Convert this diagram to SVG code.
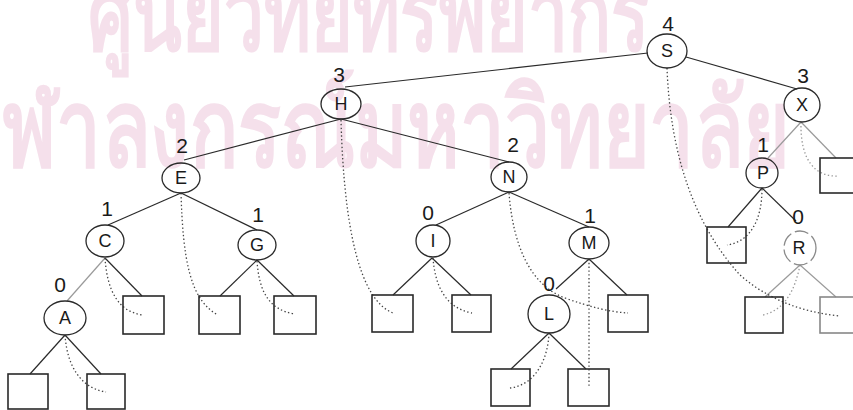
<svg xmlns="http://www.w3.org/2000/svg" width="853" height="410" viewBox="0 0 853 410">
<style>
.wm{font-family:"Noto Sans","DejaVu Sans",sans-serif;font-weight:bold;fill:#f5e0eb}
.n ellipse{fill:none;stroke:#2a2a2a;stroke-width:1.3}
.n text{font-family:"Liberation Sans",Arial,sans-serif;font-size:18px;fill:#1a1a1a;text-anchor:middle}
.n text.h{font-size:21px}
.b{fill:none;stroke:#2a2a2a;stroke-width:1.6}
.e line{stroke:#2a2a2a;stroke-width:1.2}
.e line.f{stroke:#9a9a9a}
.d{fill:none;stroke:#444;stroke-width:1.3;stroke-dasharray:1.4 2.4}
.d.f{stroke:#999}
</style>
<rect width="853" height="410" fill="#ffffff"/>
<g id="watermark">
<text class="wm" x="88" y="50" font-size="100" textLength="562" lengthAdjust="spacingAndGlyphs">ศูนย์วิทยทรัพยากร</text>
<text class="wm" x="-45" y="166" font-size="108" textLength="835" lengthAdjust="spacingAndGlyphs">จุฬาลงกรณ์มหาวิทยาลัย</text>
</g>
<g id="connectors">
<g class="e">
<line x1="648" y1="53" x2="345" y2="87"/>
<line x1="686" y1="57" x2="797" y2="89"/>
<line x1="341" y1="119" x2="184" y2="160"/>
<line x1="341" y1="119" x2="509" y2="162"/>
<line x1="181" y1="193" x2="108" y2="225"/>
<line x1="181" y1="193" x2="257" y2="230"/>
<line class="f" x1="105" y1="258" x2="67" y2="301"/>
<line x1="105" y1="258" x2="142" y2="296"/>
<line x1="65" y1="335" x2="30" y2="374"/>
<line x1="65" y1="335" x2="101" y2="374"/>
<line x1="257" y1="260" x2="220" y2="296"/>
<line x1="257" y1="260" x2="294" y2="296"/>
<line x1="509" y1="192" x2="436" y2="225"/>
<line x1="509" y1="192" x2="589" y2="227"/>
<line x1="432" y1="258" x2="393" y2="295"/>
<line x1="432" y1="258" x2="471" y2="295"/>
<line x1="589" y1="259" x2="556" y2="289"/>
<line x1="589" y1="259" x2="627" y2="295"/>
<line x1="549" y1="333" x2="511" y2="369"/>
<line x1="549" y1="333" x2="586" y2="369"/>
<line class="f" x1="801" y1="122" x2="768" y2="158"/>
<line class="f" x1="801" y1="122" x2="836" y2="158"/>
<line x1="762" y1="188" x2="728" y2="227"/>
<line x1="762" y1="188" x2="796" y2="221"/>
<line class="f" x1="800" y1="265" x2="765" y2="297"/>
<line class="f" x1="800" y1="265" x2="836" y2="297"/>
</g>
<path class="d" d="M667,68 Q672,200 740,275 Q780,310 840,316"/>
<path class="d" d="M341,120 C344,230 360,300 393,313"/>
<path class="d" d="M181,193 C183,260 190,300 218,315"/>
<path class="d" d="M257,261 C259,290 268,310 295,314"/>
<path class="d" d="M105,258 C107,290 118,312 143,315"/>
<path class="d" d="M65,335 C67,365 80,388 106,392"/>
<path class="d" d="M509,193 C513,245 530,285 565,298 C590,307 610,312 628,313"/>
<path class="d" d="M433,258 C435,285 445,308 472,313"/>
<path class="d" d="M589,259 L589,387"/>
<path class="d" d="M549,333 C548,360 535,385 510,388"/>
<path class="d" d="M762,189 C762,220 750,242 727,245"/>
<path class="d f" d="M800,265 C795,290 785,310 763,315"/>
<path class="d f" d="M801,122 C800,160 815,177 838,176"/>
</g>
<g id="nS" class="n"><ellipse cx="667" cy="51" rx="20" ry="17"/><text x="667" y="57">S</text><text class="h" x="668" y="31">4</text></g>
<g id="nH" class="n"><ellipse cx="341" cy="104" rx="20" ry="15"/><text x="341" y="110">H</text><text class="h" x="339" y="82">3</text></g>
<g id="nX" class="n"><ellipse cx="802" cy="105" rx="18" ry="17"/><text x="802" y="111">X</text><text class="h" x="803" y="83">3</text></g>
<g id="nE" class="n"><ellipse cx="181" cy="178" rx="19" ry="15"/><text x="181" y="184">E</text><text class="h" x="182" y="153">2</text></g>
<g id="nN" class="n"><ellipse cx="509" cy="177" rx="18" ry="15"/><text x="509" y="183">N</text><text class="h" x="513" y="152">2</text></g>
<g id="nP" class="n"><ellipse cx="762" cy="173" rx="16" ry="15"/><text x="763" y="179">P</text><text class="h" x="763" y="152">1</text></g>
<g id="nC" class="n"><ellipse cx="105" cy="241" rx="19" ry="16"/><text x="105" y="247">C</text><text class="h" x="107" y="216">1</text></g>
<g id="nG" class="n"><ellipse cx="257" cy="245" rx="19" ry="15"/><text x="257" y="251">G</text><text class="h" x="258" y="222">1</text></g>
<g id="nI" class="n"><ellipse cx="433" cy="241" rx="17" ry="16"/><text x="433" y="247">I</text><text class="h" x="428" y="220">0</text></g>
<g id="nM" class="n"><ellipse cx="589" cy="243" rx="20" ry="16"/><text x="589" y="249">M</text><text class="h" x="590" y="223">1</text></g>
<g id="nR" class="n"><ellipse cx="800" cy="248" rx="16" ry="17" style="stroke:#8a8a8a;stroke-dasharray:14 4"/><text x="799" y="254">R</text><text class="h" x="798" y="224">0</text></g>
<g id="nA" class="n"><ellipse cx="65" cy="318" rx="21" ry="17"/><text x="65" y="324">A</text><text class="h" x="60" y="292">0</text></g>
<g id="nL" class="n"><ellipse cx="549" cy="314" rx="21" ry="19"/><text x="549" y="320">L</text><text class="h" x="549" y="291">0</text></g>
<g id="leaves">
<rect class="b" x="8" y="374" width="40" height="35"/>
<rect class="b" x="87" y="374" width="38" height="35"/>
<rect class="b" x="123" y="296" width="41" height="38"/>
<rect class="b" x="199" y="296" width="41" height="38"/>
<rect class="b" x="274" y="296" width="42" height="38"/>
<rect class="b" x="372" y="295" width="41" height="37"/>
<rect class="b" x="452" y="295" width="39" height="37"/>
<rect class="b" x="608" y="295" width="40" height="37"/>
<rect class="b" x="491" y="369" width="39" height="37"/>
<rect class="b" x="568" y="369" width="41" height="37"/>
<rect class="b" x="707" y="227" width="39" height="36"/>
<rect class="b" x="745" y="297" width="38" height="36"/>
<rect class="b" x="820" y="297" width="40" height="36" style="stroke:#888"/>
<rect class="b" x="820" y="158" width="40" height="35"/>
</g>
</svg>
